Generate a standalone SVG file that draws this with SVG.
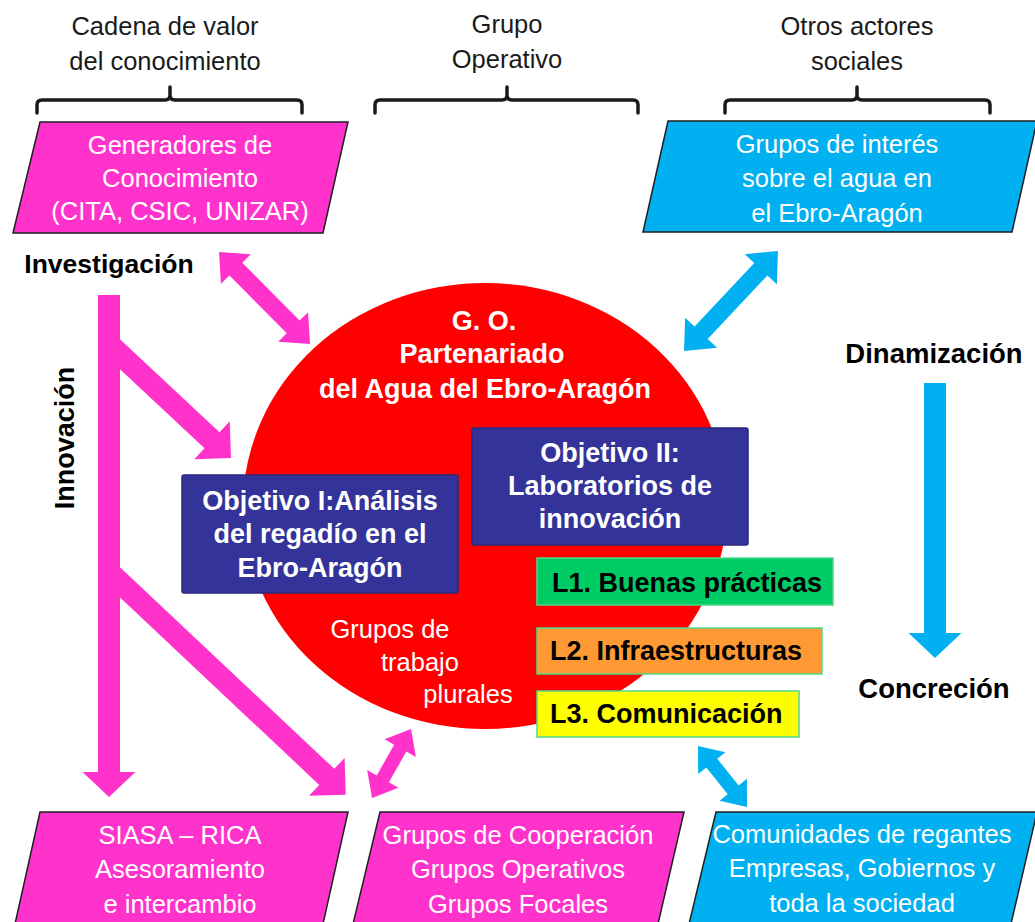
<svg xmlns="http://www.w3.org/2000/svg" width="1035" height="922" viewBox="0 0 1035 922">
<style>
.hdr{font-family:"Liberation Sans",Arial,sans-serif;font-size:25.5px;fill:#1a1a1a;text-anchor:middle}
.lbl{font-family:"Liberation Sans",Arial,sans-serif;font-size:26px;font-weight:bold;fill:#000;text-anchor:middle}
.wt{font-family:"Liberation Sans",Arial,sans-serif;font-size:25.5px;fill:#fff;text-anchor:middle}
.wb{font-family:"Liberation Sans",Arial,sans-serif;font-size:27px;font-weight:bold;fill:#fff;text-anchor:middle}
.lb{font-family:"Liberation Sans",Arial,sans-serif;font-size:27px;font-weight:bold;fill:#000}
.brk{fill:none;stroke:#1a1a1a;stroke-width:3.5;stroke-linejoin:round;stroke-linecap:round}
.pink{fill:#FF33CC}
.blue{fill:#00B0F0}
.para{stroke:#1f1f1f;stroke-width:1.5}
.obj{fill:#333399;stroke:#2a2a80;stroke-width:1.5}
.lin{stroke:#4fd98a;stroke-width:1.5}
</style>
<rect width="1035" height="922" fill="#fff"/>

<g id="headers">
<text class="hdr" x="165" y="35">Cadena de valor</text>
<text class="hdr" x="165" y="70">del conocimiento</text>
<text class="hdr" x="507" y="33">Grupo</text>
<text class="hdr" x="507" y="68">Operativo</text>
<text class="hdr" x="857" y="35">Otros actores</text>
<text class="hdr" x="857" y="70">sociales</text>
<path class="brk" d="M37,113 V105 Q37,100 42,100 H165 Q170,100 170,95 V87 M170,95 Q170,100 175,100 H297 Q302,100 302,105 V113"/>
<path class="brk" d="M375,113 V105 Q375,100 380,100 H502 Q507,100 507,95 V87 M507,95 Q507,100 512,100 H633 Q638,100 638,105 V113"/>
<path class="brk" d="M725,113 V105 Q725,100 730,100 H852 Q857,100 857,95 V87 M857,95 Q857,100 862,100 H985 Q990,100 990,105 V113"/>
</g>

<g id="generadores">
<polygon class="pink para" points="40,122 348,122 323,233 13,233"/>
<text class="wt" x="180" y="154">Generadores de</text>
<text class="wt" x="180" y="187">Conocimiento</text>
<text class="wt" x="180" y="220">(CITA, CSIC, UNIZAR)</text>
</g>

<g id="grupos-interes">
<polygon class="blue para" points="668,121 1037,121 1012,232 643,232"/>
<text class="wt" x="837" y="153">Grupos de interés</text>
<text class="wt" x="837" y="187">sobre el agua en</text>
<text class="wt" x="837" y="222">el Ebro-Aragón</text>
</g>

<g id="labels">
<text class="lbl" x="109" y="273" style="font-size:26.5px">Investigación</text>
<text class="lbl" x="934" y="363" style="font-size:27.5px">Dinamización</text>
<text class="lbl" x="934" y="698" style="font-size:27.5px">Concreción</text>
<text class="lbl" transform="translate(74,438) rotate(-90)" style="font-size:27px">Innovación</text>
</g>

<g id="go">
<ellipse cx="485" cy="506" rx="242" ry="223" fill="#FF0000"/>
<text class="wb" x="484" y="330">G. O.</text>
<text class="wb" x="482" y="363">Partenariado</text>
<text class="wb" x="485" y="398">del Agua del Ebro-Aragón</text>
<text class="wt" x="390" y="638">Grupos de</text>
<text class="wt" x="420" y="671">trabajo</text>
<text class="wt" x="468" y="703">plurales</text>
</g>

<g id="objetivo1">
<rect class="obj" x="182" y="475" width="276" height="118" rx="2"/>
<text class="wb" x="320" y="510">Objetivo I:Análisis</text>
<text class="wb" x="320" y="543">del regadío en el</text>
<text class="wb" x="320" y="577">Ebro-Aragón</text>
</g>

<g id="objetivo2">
<rect class="obj" x="472" y="428" width="276" height="117" rx="2"/>
<text class="wb" x="610" y="462">Objetivo II:</text>
<text class="wb" x="610" y="495">Laboratorios de</text>
<text class="wb" x="610" y="528">innovación</text>
</g>

<g id="l1">
<rect class="lin" x="537" y="558" width="296" height="47" fill="#00CC66"/>
<text class="lb" x="552" y="592">L1. Buenas prácticas</text>
</g>
<g id="l2">
<rect class="lin" x="537" y="628" width="285" height="46" fill="#FF9933"/>
<text class="lb" x="550" y="660">L2. Infraestructuras</text>
</g>
<g id="l3">
<rect class="lin" x="537" y="691" width="262" height="46" fill="#FFFF00"/>
<text class="lb" x="550" y="723">L3. Comunicación</text>
</g>

<g id="siasa">
<polygon class="pink para" points="40,812 348,812 323,924 15,924"/>
<text class="wt" x="180" y="844">SIASA – RICA</text>
<text class="wt" x="180" y="878">Asesoramiento</text>
<text class="wt" x="180" y="913">e intercambio</text>
</g>

<g id="cooperacion">
<polygon class="pink para" points="380,812 684,812 658,924 353,924"/>
<text class="wt" x="518" y="844">Grupos de Cooperación</text>
<text class="wt" x="518" y="878">Grupos Operativos</text>
<text class="wt" x="518" y="913">Grupos Focales</text>
</g>

<g id="comunidades">
<polygon class="blue para" points="716,812 1037,812 1011,924 689,924"/>
<text class="wt" x="862" y="843">Comunidades de regantes</text>
<text class="wt" x="862" y="877">Empresas, Gobiernos y</text>
<text class="wt" x="862" y="912">toda la sociedad</text>
</g>

<g id="connectors">
<polygon class="pink" points="98,295 120,295 120,772 135.5,772 109,797 82.5,772 98,772"/>
<path class="pink" transform="translate(109,344) rotate(43.06)" d="M0,-11 H141 V-26 L167,0 L141,26 V11 H0 Z"/>
<path class="pink" transform="translate(109,572) rotate(43.25)" d="M0,-11 H299 V-26 L325,0 L299,26 V11 H0 Z"/>
<path class="pink" transform="translate(219,252) rotate(45.3)" d="M24,-9 H105.4 V-21 L129.4,0 L105.4,21 V9 H24 V21 L0,0 L24,-21 Z"/>
<path class="blue" transform="translate(684,351) rotate(-46.77)" d="M25,-9 H112.2 V-22 L137.2,0 L112.2,22 V9 H25 V22 L0,0 L25,-22 Z"/>
<path class="pink" transform="translate(372,798) rotate(-60.5)" d="M22,-7 H57.3 V-18 L79.3,0 L57.3,18 V7 H22 V18 L0,0 L22,-18 Z"/>
<path class="blue" transform="translate(698,746) rotate(51.2)" d="M22,-7 H56.2 V-17.5 L78.2,0 L56.2,17.5 V7 H22 V17.5 L0,0 L22,-17.5 Z"/>
<polygon class="blue" points="924,383 946,383 946,633 961.5,633 935,658 908.5,633 924,633"/>
</g>
</svg>
